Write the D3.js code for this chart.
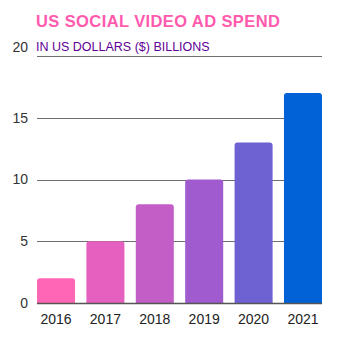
<!DOCTYPE html>
<html>
<head>
<meta charset="utf-8">
<style>
body { margin: 0; background: #fff; }
svg text { font-family: "Liberation Sans", Arial, sans-serif; }
</style>
</head>
<body>
<svg id="chart"></svg>
<script src="https://d3js.org/d3.v7.min.js"></script>
<script>

// chart data
var years = ["2016", "2017", "2018", "2019", "2020", "2021"];
var spend = [2, 5, 8, 10, 13, 17];
var barColors = ["#ff66b5", "#e560bf", "#c25ec6", "#a05bcf", "#6e62d3", "#0062d6"];
var yTicks = [0, 5, 10, 15, 20];

var width = 338, height = 342;
var margin = {top: 56, right: 16, bottom: 39, left: 37};

var svg = d3.select("#chart")
    .attr("width", width)
    .attr("height", height);

var x = d3.scaleBand()
    .domain(years)
    .range([margin.left, width - margin.right])
    .paddingInner(0.23)
    .paddingOuter(0);

var y = d3.scaleLinear()
    .domain([0, 20])
    .range([height - margin.bottom, margin.top]);

// gridlines
svg.selectAll(".grid")
    .data(yTicks.slice(1))
  .enter().append("line")
    .attr("x1", margin.left)
    .attr("x2", width - margin.right)
    .attr("y1", function(d) { return Math.round(y(d)) + 0.5; })
    .attr("y2", function(d) { return Math.round(y(d)) + 0.5; })
    .attr("stroke", "#6f6f6f")
    .attr("stroke-width", 1);

// tick labels
svg.selectAll(".ytick")
    .data(yTicks)
  .enter().append("text")
    .attr("x", 28)
    .attr("y", function(d) { return y(d) + (d === 20 ? -9 : 0); })
    .attr("dy", "0.35em")
    .attr("text-anchor", "end")
    .attr("font-size", "14px")
    .attr("fill", "#333")
    .text(function(d) { return d; });

// bars with rounded tops
var r = 3;
svg.selectAll(".bar")
    .data(spend)
  .enter().append("path")
    .attr("fill", function(d, i) { return barColors[i]; })
    .attr("d", function(d, i) {
      var x0 = x(years[i]), x1 = x0 + x.bandwidth();
      var y0 = y(0), y1 = y(d);
      return "M" + x0 + "," + y0
        + "V" + (y1 + r)
        + "Q" + x0 + "," + y1 + " " + (x0 + r) + "," + y1
        + "H" + (x1 - r)
        + "Q" + x1 + "," + y1 + " " + x1 + "," + (y1 + r)
        + "V" + y0 + "Z";
    });

// baseline
svg.append("line")
    .attr("x1", margin.left)
    .attr("x2", width - margin.right)
    .attr("y1", Math.round(y(0)) + 0.5)
    .attr("y2", Math.round(y(0)) + 0.5)
    .attr("stroke", "#555")
    .attr("stroke-width", 1.5);

// year labels
svg.selectAll(".xtick")
    .data(years)
  .enter().append("text")
    .attr("x", function(d) { return x(d) + x.bandwidth() / 2; })
    .attr("y", y(0) + 16)
    .attr("dy", "0.35em")
    .attr("text-anchor", "middle")
    .attr("font-size", "14px")
    .attr("fill", "#222")
    .text(function(d) { return d; });

// titles
svg.append("text")
    .attr("x", 36)
    .attr("y", 27)
    .attr("font-size", "16.5px")
    .attr("font-weight", "bold")
    .attr("letter-spacing", "0.4px")
    .attr("fill", "#ff5aae")
    .text("US SOCIAL VIDEO AD SPEND");

svg.append("text")
    .attr("x", 36)
    .attr("y", 51)
    .attr("font-size", "12.5px")
    .attr("fill", "#5e0096")
    .text("IN US DOLLARS ($) BILLIONS");

</script>
</body>
</html>
